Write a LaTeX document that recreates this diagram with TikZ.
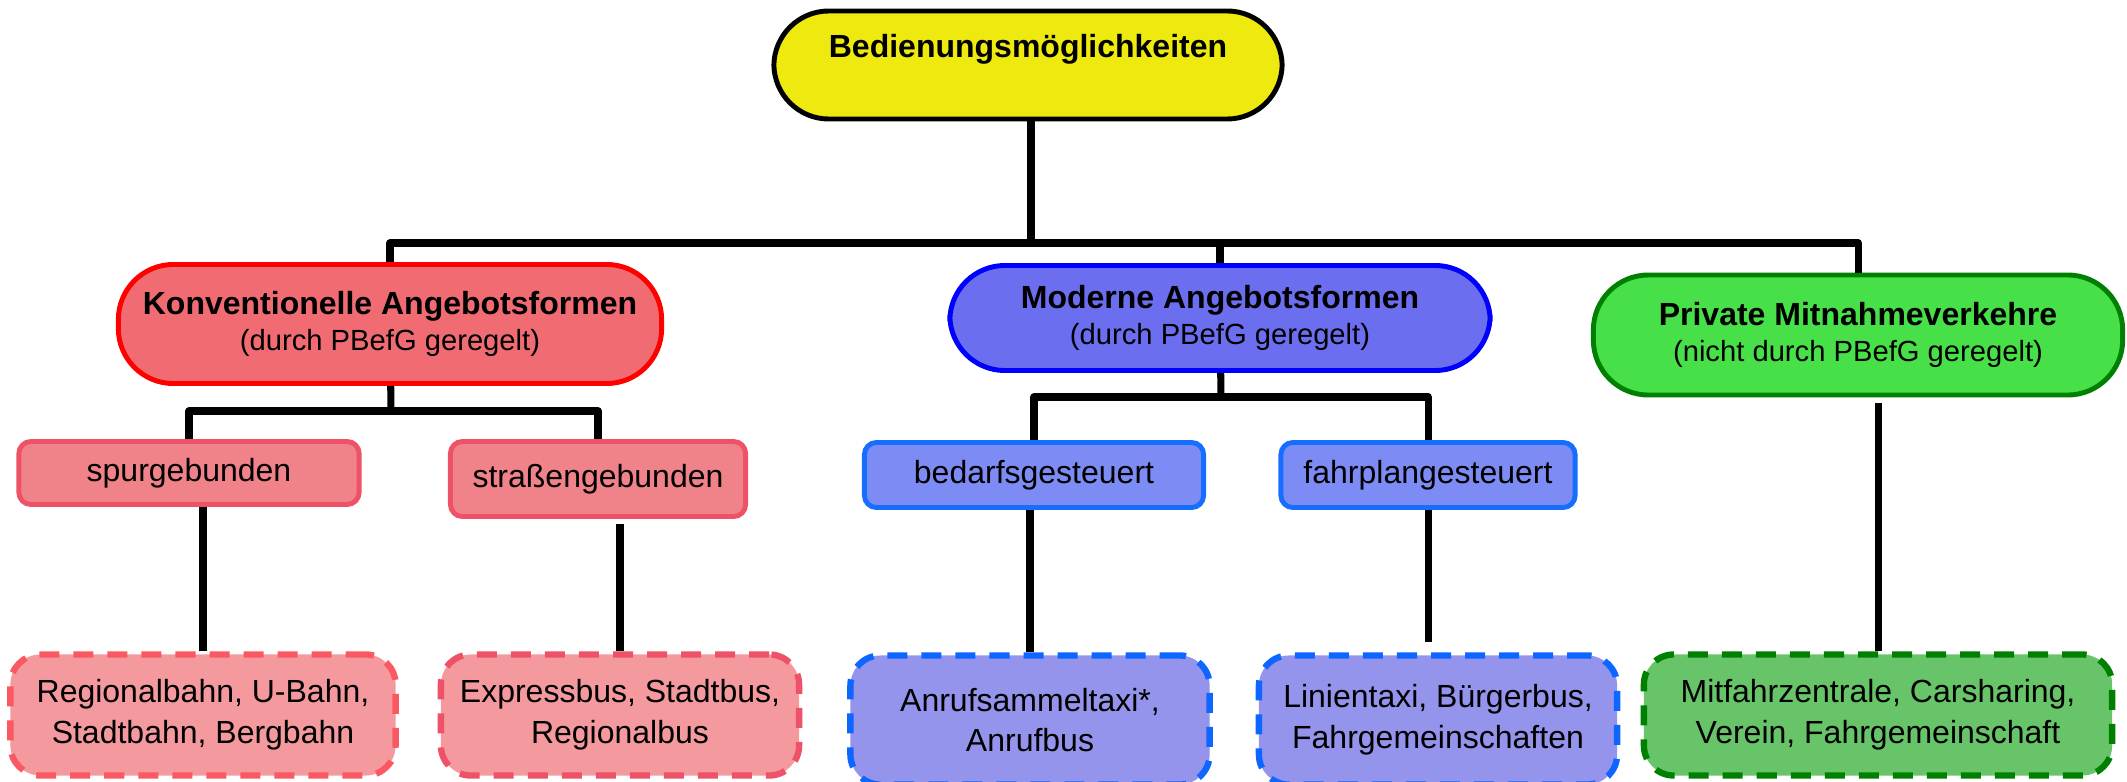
\documentclass[tikz,border=0pt]{standalone}
\usepackage{fontspec}
\setmainfont{Liberation Sans}
\usepackage{tikz}
\usetikzlibrary{calc}

\definecolor{gelb}{RGB}{238,234,16}
\definecolor{rotrand}{RGB}{255,0,0}
\definecolor{rotfill}{RGB}{240,108,114}
\definecolor{rotrandb}{RGB}{238,82,104}
\definecolor{rotfillb}{RGB}{240,130,138}
\definecolor{rotrandc}{RGB}{250,88,98}
\definecolor{rotfillc}{RGB}{244,154,158}
\definecolor{blaurand}{RGB}{0,0,255}
\definecolor{blaufill}{RGB}{108,110,240}
\definecolor{blaurandb}{RGB}{22,110,255}
\definecolor{blaufillb}{RGB}{124,140,244}
\definecolor{blaurandc}{RGB}{12,102,255}
\definecolor{blaufillc}{RGB}{148,148,236}
\definecolor{gruenrand}{RGB}{0,128,0}
\definecolor{gruenfill}{RGB}{72,224,72}
\definecolor{gruenfillc}{RGB}{104,196,104}

\begin{document}
\begin{tikzpicture}[x=0.01cm,y=-0.01cm,line join=round,
    conn/.style={line width=2pt},
    box/.style={draw,line width=1.4pt,inner sep=0pt,align=center,font=\fontsize{9.1}{11.6}\selectfont},
    haupt/.style={box,rounded corners=0.55cm,font=\fontsize{9.1}{10}\selectfont},
    unter/.style={box,rounded corners=0.12cm},
    blatt/.style={box,rounded corners=0.3cm,line width=1.8pt,dash pattern=on 0.2cm off 0.14cm}]
  \useasboundingbox (0,0) rectangle (2127,782);

  % Wurzel
  \node[haupt,fill=gelb,minimum width=5.08cm,minimum height=1.08cm,text height=0.24cm,text depth=0.39cm,
    font=\bfseries\fontsize{9.1}{10}\selectfont] (top) at (1028,65) {Bedienungsmöglichkeiten};

  % erste Ebene
  \node[haupt,draw=rotrand,fill=rotfill,minimum width=5.43cm,minimum height=1.19cm] (konv) at (390,324)
    {\textbf{Konventionelle Angebotsformen}\\{\fontsize{8.3}{10}\selectfont(durch PBefG geregelt)}};
  \node[haupt,draw=blaurand,fill=blaufill,minimum width=5.40cm,minimum height=1.05cm] (mod) at (1220,318)
    {\textbf{Moderne Angebotsformen}\\{\fontsize{8.3}{10}\selectfont(durch PBefG geregelt)}};
  \node[haupt,draw=gruenrand,fill=gruenfill,minimum width=5.29cm,minimum height=1.20cm] (priv) at (1858,335)
    {\textbf{Private Mitnahmeverkehre}\\{\fontsize{8.3}{10}\selectfont(nicht durch PBefG geregelt)}};

  % zweite Ebene
  \node[unter,draw=rotrandb,fill=rotfillb,minimum width=3.40cm,minimum height=0.63cm] (spur) at (189,473) {spurgebunden};
  \node[unter,draw=rotrandb,fill=rotfillb,minimum width=2.95cm,minimum height=0.75cm] (stra) at (598,479) {straßengebunden};
  \node[unter,draw=blaurandb,fill=blaufillb,minimum width=3.39cm,minimum height=0.65cm] (bed) at (1034,475) {bedarfsgesteuert};
  \node[unter,draw=blaurandb,fill=blaufillb,minimum width=2.94cm,minimum height=0.65cm] (fahr) at (1428,475) {fahrplangesteuert};

  % dritte Ebene
  \node[blatt,draw=rotrandc,fill=rotfillc,minimum width=3.85cm,minimum height=1.21cm] (reg) at (203,715)
    {Regionalbahn, U-Bahn,\\Stadtbahn, Bergbahn};
  \node[blatt,draw=rotrandb,fill=rotfillc,minimum width=3.58cm,minimum height=1.21cm] (expr) at (620,715)
    {Expressbus, Stadtbus,\\Regionalbus};
  \node[blatt,draw=blaurandc,fill=blaufillc,minimum width=3.59cm,minimum height=1.29cm] (anruf) at (1030,720)
    {Anrufsammeltaxi*,\\Anrufbus};
  \node[blatt,draw=blaurandc,fill=blaufillc,minimum width=3.58cm,minimum height=1.29cm] (linie) at (1438,720)
    {Linientaxi, Bürgerbus,\\Fahrgemeinschaften};
  \node[blatt,draw=gruenrand,fill=gruenfillc,minimum width=4.68cm,minimum height=1.21cm] (mitf) at (1878,715)
    {Mitfahrzentrale, Carsharing,\\Verein, Fahrgemeinschaft};

  % Verbindungen
  \coordinate (bus) at (1031,243);
  \coordinate (kbus) at (391,411);
  \coordinate (mbus) at (1221,397);
  \draw[conn] (top.south -| bus) -- (bus);
  \draw[conn] (konv) |- (bus) -| (priv);
  \draw[conn] (mod) -- (mod |- bus);
  \draw[conn] (konv) -- (kbus);
  \draw[conn] (spur) |- (kbus) -| (stra);
  \draw[conn] (mod) -- (mbus);
  \draw[conn] (bed) |- (mbus) -| (fahr);
  \draw[conn] (reg) -- (reg |- spur.south);
  \draw[conn,shorten >=1.5pt] (expr) -- (expr |- stra.south);
  \draw[conn] (anruf) -- (anruf |- bed.south);
  \draw[conn,shorten >=3pt] (fahr) -- (fahr |- linie.north);
  \draw[conn,shorten >=1.5pt] (mitf) -- (mitf |- priv.south);
\end{tikzpicture}
\end{document}
